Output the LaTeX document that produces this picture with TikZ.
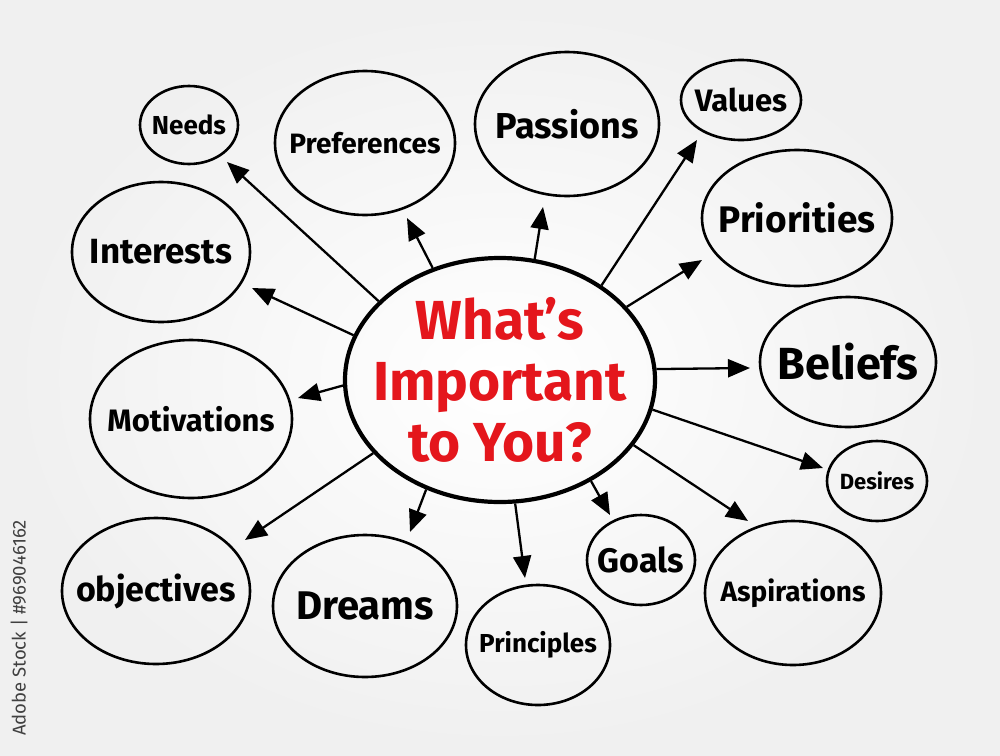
\documentclass[tikz,border=0pt]{standalone}
\usepackage{fontspec}
\setmainfont{Fira Sans}
\usetikzlibrary{shapes.geometric}
\usetikzlibrary{arrows.meta}
\definecolor{hubred}{RGB}{228,22,28}
\tikzset{
    bubble/.style = {ellipse, draw=black, line width=2.6pt, inner sep=0pt},
    hub/.style = {ellipse, draw=black, line width=4.2pt, inner sep=0pt},
    txt/.style = {font=\fontsize{#1}{#1}\selectfont\bfseries, inner sep=0pt},
    hubtxt/.style = {align=center, text=hubred, font=\fontsize{55}{61}\selectfont\bfseries},
    arr/.style = {line width=2.3pt, -{Triangle[length=22pt,width=18pt]}}, % spokes
}

\begin{document}
\begin{tikzpicture}[x=1pt, y=-1pt]
  \shade[inner color=white, outer color=black!6] (0,0) rectangle (1000,755);
  \useasboundingbox (0,0) rectangle (1000,755);

  \node (hub) at (500,380) [hub, minimum width=310pt, minimum height=244pt,
    label={[hubtxt]center:What's\\Important\\to You?}] {};

  \node (needs) at (189,125) [bubble, minimum width=98pt, minimum height=78pt, label={[txt=26]center:Needs}] {};
  \node (pref) at (365,143) [bubble, minimum width=180pt, minimum height=144pt, label={[txt=28]center:Preferences}] {};
  \node (passions) at (567,124) [bubble, minimum width=184pt, minimum height=144pt, label={[txt=36]center:Passions}] {};
  \node (values) at (741,100) [bubble, minimum width=120pt, minimum height=80pt, label={[txt=31]center:Values}] {};
  \node (priorities) at (797,218) [bubble, minimum width=190pt, minimum height=136pt, label={[txt=37]center:Priorities}] {};
  \node (beliefs) at (848,362) [bubble, minimum width=176pt, minimum height=130pt, label={[txt=45]center:Beliefs}] {};
  \node (desires) at (877,481) [bubble, minimum width=100pt, minimum height=80pt, label={[txt=22]center:Desires}] {};
  \node (aspirations) at (793,593) [bubble, minimum width=176pt, minimum height=144pt, label={[txt=28]center:Aspirations}] {};
  \node (goals) at (641,560) [bubble, minimum width=108pt, minimum height=90pt, label={[txt=34]center:Goals}] {};
  \node (principles) at (538,645) [bubble, minimum width=144pt, minimum height=120pt, label={[txt=26]center:Principles}] {};
  \node (dreams) at (365,606) [bubble, minimum width=184pt, minimum height=142pt, label={[txt=40]center:Dreams}] {};
  \node (objectives) at (156,591) [bubble, minimum width=188pt, minimum height=146pt, label={[txt=34]center:objectives}] {};
  \node (motivations) at (191,419) [bubble, minimum width=202pt, minimum height=158pt, label={[txt=31]center:Motivations}] {};
  \node (interests) at (161,252) [bubble, minimum width=178pt, minimum height=140pt, label={[txt=35]center:Interests}] {};

  % arrow tips stop short of the bubbles
  \coordinate (tNeeds) at (227,162);
  \coordinate (tPref) at (407,218);
  \coordinate (tPassions) at (543,207);
  \coordinate (tValues) at (697,140);
  \coordinate (tPriorities) at (702,260);
  \coordinate (tBeliefs) at (750,368);
  \coordinate (tDesires) at (823,468);
  \coordinate (tAspirations) at (748,521);
  \coordinate (tGoals) at (610,515);
  \coordinate (tPrinciples) at (525,578);
  \coordinate (tDreams) at (410,532);
  \coordinate (tObjectives) at (245,540);
  \coordinate (tMotivations) at (298,398);
  \coordinate (tInterests) at (252,288);

  \draw[arr] (hub.147) -- (tNeeds);
  \draw[arr] (hub.121) -- (tPref);
  \draw[arr] (hub.74) -- (tPassions);
  \draw[arr] (hub.43) -- (tValues);
  \draw[arr] (hub.30) -- (tPriorities);
  \draw[arr] (hub.4) -- (tBeliefs);
  \draw[arr] (hub.-11) -- (tDesires);
  \draw[arr] (hub.-26) -- (tAspirations);
  \draw[arr] (hub.-48) -- (tGoals);
  \draw[arr] (hub.-83) -- (tPrinciples);
  \draw[arr] (hub.236) -- (tDreams);
  \draw[arr] (hub.210) -- (tObjectives);
  \draw[arr] (hub.182) -- (tMotivations);
  \draw[arr] (hub.163) -- (tInterests);

  \node (stock) at (19,628) [rotate=90, text=black!75, font=\fontsize{18.5}{18.5}\selectfont] {Adobe Stock | \#969046162};
\end{tikzpicture}
\end{document}
